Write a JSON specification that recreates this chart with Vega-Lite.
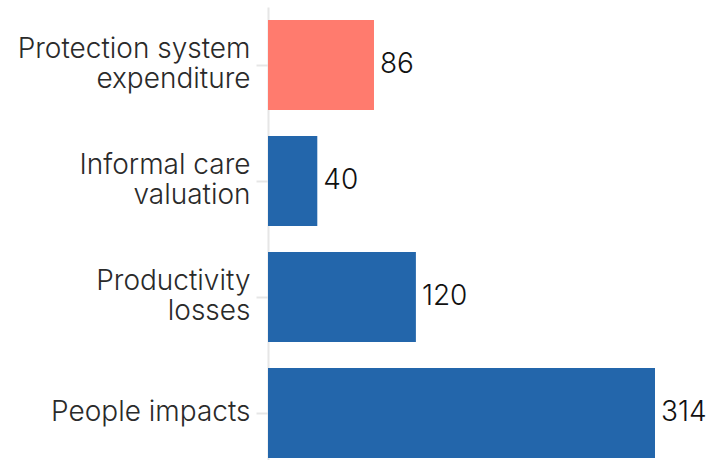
{
  "$schema": "https://vega.github.io/schema/vega-lite/v6.json",
  "autosize": "none",
  "width": 387,
  "height": 464,
  "padding": {"left": 268, "top": 7, "right": 57, "bottom": 0},
  "background": "white",
  "config": {"view": {"stroke": null}, "font": "Inter"},
  "data": {"values": [
    {"category": "Protection system expenditure", "value": 86, "group": "protection"},
    {"category": "Informal care valuation", "value": 40, "group": "other"},
    {"category": "Productivity losses", "value": 120, "group": "other"},
    {"category": "People impacts", "value": 314, "group": "other"}
  ]},
  "encoding": {
    "y": {
      "field": "category", "type": "nominal", "sort": null,
      "scale": {"paddingInner": 0.224, "paddingOuter": 0.112},
      "axis": {
        "title": null,
        "domainColor": "#e6e6e6", "domainWidth": 2,
        "tickColor": "#e6e6e6", "tickSize": 12, "tickWidth": 2,
        "labelFontSize": 28, "labelFontWeight": 300, "labelColor": "#2a2a2a", "labelPadding": 6,
        "labelLineHeight": 30, "labelLimit": 300,
        "labelOffset": {"condition": {"test": "datum.value == 'People impacts'", "value": 0}, "value": -15},
        "labelExpr": "datum.value == 'Protection system expenditure' ? ['Protection system','expenditure'] : datum.value == 'Informal care valuation' ? ['Informal care','valuation'] : datum.value == 'Productivity losses' ? ['Productivity','losses'] : datum.value"
      }
    },
    "x": {
      "field": "value", "type": "quantitative",
      "scale": {"domain": [0, 314], "nice": false},
      "axis": null
    }
  },
  "layer": [
    {
      "mark": {"type": "bar"},
      "encoding": {
        "color": {
          "field": "group", "type": "nominal",
          "scale": {"domain": ["protection", "other"], "range": ["#ff7b6e", "#2366ab"]},
          "legend": null
        }
      }
    },
    {
      "mark": {"type": "text", "align": "left", "dx": 6, "fontSize": 28, "fontWeight": 300, "color": "#111"},
      "encoding": {"text": {"field": "value", "type": "quantitative"}}
    }
  ]
}
